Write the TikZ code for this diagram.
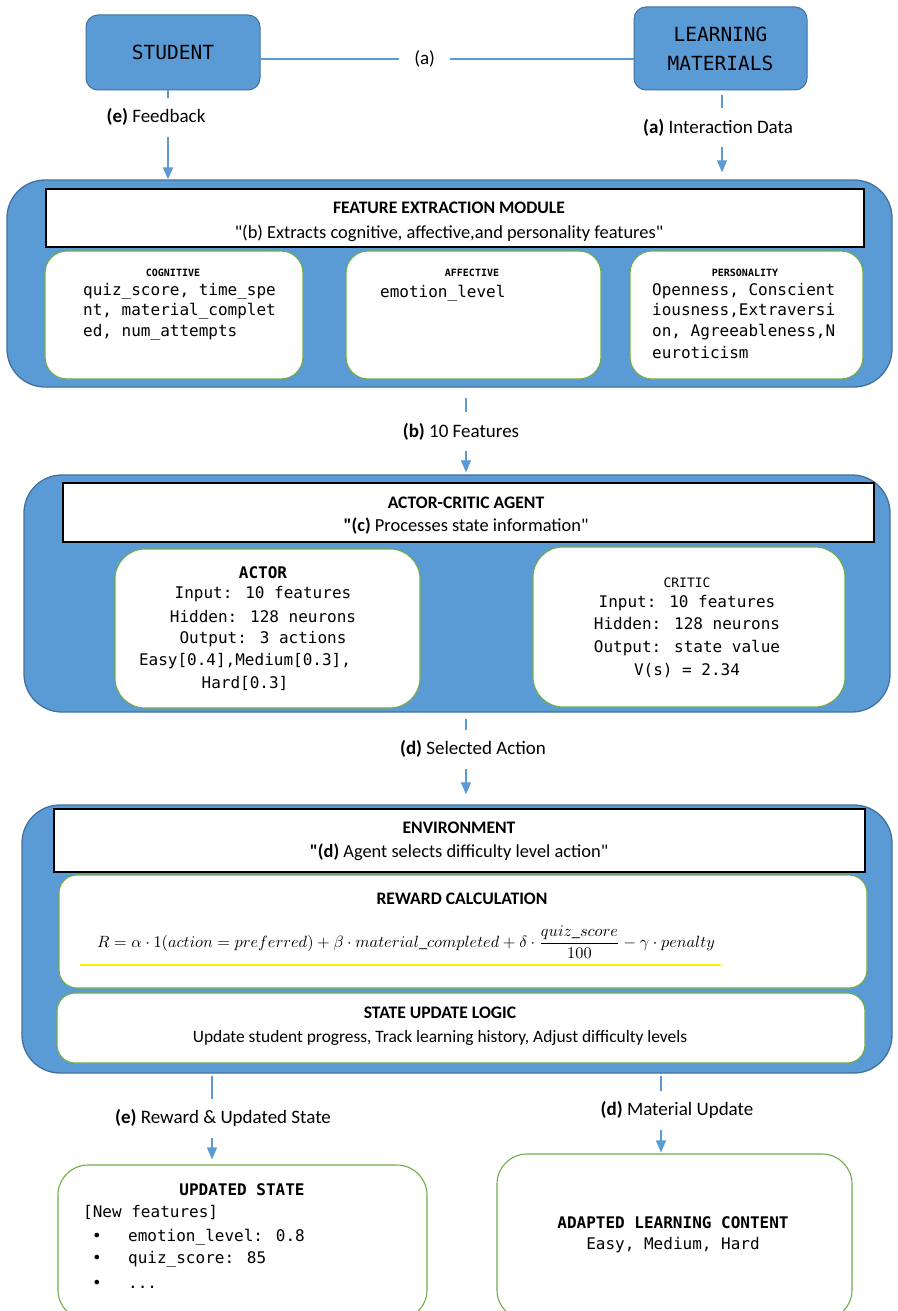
\documentclass[tikz,border=0pt]{standalone}
\usepackage{amsmath}
\usepackage[no-math]{fontspec}
\setmainfont{Carlito}
\newfontfamily\codefont{DejaVu Sans Mono}
\usetikzlibrary{arrows.meta}
\definecolor{aBlue}{RGB}{91,155,213}
\definecolor{aEdge}{RGB}{65,113,156}
\definecolor{aGreen}{RGB}{112,173,71}
\definecolor{aYellow}{RGB}{255,240,0}

\begin{document}
\begin{tikzpicture}[x=1pt, y=-1pt,
  module/.style={draw=aEdge, line width=1.3pt, fill=aBlue, rounded corners=38pt, inner sep=0pt},
  endbox/.style={draw=aEdge, line width=1pt, fill=aBlue, rounded corners=12pt, inner sep=0pt,
    align=center, font=\codefont\fontsize{19.5}{24}\selectfont},
  titlebox/.style={draw=black, line width=1.2pt, fill=white, inner sep=0pt},
  card/.style={draw=aGreen, line width=1.1pt, fill=white, rounded corners=22pt, inner sep=0pt},
  head/.style={anchor=base, inner sep=0pt, font=\bfseries\fontsize{17.6}{21}\selectfont},
  sub/.style={anchor=base, inner sep=0pt, font=\fontsize{18.4}{22}\selectfont},
  tag/.style={anchor=base, inner sep=0pt, font=\codefont\bfseries\fontsize{10}{12}\selectfont},
  code/.style={anchor=base west, inner sep=0pt, font=\codefont\fontsize{16}{20}\selectfont},
  ccode/.style={code, anchor=base},
  bcode/.style={ccode, font=\codefont\bfseries\fontsize{16}{20}\selectfont},
  conn/.style={draw=aBlue, line width=1.1pt},
  arr/.style={conn, -{Triangle[width=10pt,length=12pt]}},
  lbl/.style={fill=white, inner xsep=3pt, inner ysep=11pt, font=\fontsize{19}{22}\selectfont}]
  \useasboundingbox (0,0) rectangle (897,1311);
  \fill[white] (0,0) rectangle (897,1311);

  \node[endbox, minimum width=174pt, minimum height=75pt] (stu) at (173,52.5) {STUDENT};
  \node[endbox, minimum width=173pt, minimum height=83pt] (lm) at (720.5,48.5) {LEARNING\\[5pt]MATERIALS};

  \node[module, minimum width=885pt, minimum height=207pt] (fem) at (449.5,283.5) {};
  \node[titlebox, minimum width=818pt, minimum height=58pt] (femt) at (455,218) {};
  \node[head] (femh) at (449,213) {FEATURE EXTRACTION MODULE};
  \node[sub] (fems) at (449,238) {\textquotedbl(b) Extracts cognitive, affective,and personality features\textquotedbl};
  \node[card, minimum width=258pt, minimum height=128pt] (cog) at (174,315) {};
  \node[card, minimum width=255pt, minimum height=128pt] (aff) at (473.5,315) {};
  \node[card, minimum width=233pt, minimum height=128pt] (per) at (746.5,315) {};
  \node[tag] (cogh) at (173,276) {COGNITIVE};
  \node[tag] (affh) at (472,276) {AFFECTIVE};
  \node[tag] (perh) at (745,276) {PERSONALITY};
  \foreach \yy/\txt [count=\i] in {295/{quiz\_score, time\_spe}, 315.5/{nt, material\_complet}, 336/{ed, num\_attempts}}
    \node[code] (cog\i) at (83,\yy) {\txt};
  \node[code] (aff1) at (380,297) {emotion\_level};
  \foreach \yy/\txt [count=\i] in {295/{Openness, Conscient}, 315.5/{iousness,Extraversi}, 336/{on, Agreeableness,N}, 358/{euroticism}}
    \node[code] (per\i) at (652,\yy) {\txt};

  \node[module, minimum width=866pt, minimum height=237pt] (ac) at (457,593.5) {};
  \node[titlebox, minimum width=811pt, minimum height=59pt] (act) at (468.5,512.5) {};
  \node[head] (ach) at (466,508) {ACTOR-CRITIC AGENT};
  \node[sub] (acs) at (466,531) {\textbf{\textquotedbl(c)} Processes state information\textquotedbl};
  \node[card, rounded corners=30pt, minimum width=305pt, minimum height=159pt] (actor) at (267.5,628.5) {};
  \node[card, rounded corners=30pt, minimum width=312pt, minimum height=160pt] (critic) at (689,627) {};
  \node[bcode] (actor0) at (263,578) {ACTOR};
  \foreach \xx/\yy/\txt [count=\i] in {263/598/{Input: 10 features}, 263/622/{Hidden: 128 neurons},
    263/643/{Output: 3 actions}, 245/665/{Easy[0.4],Medium[0.3],}, 245/688/{Hard[0.3]}}
    \node[ccode] (actor\i) at (\xx,\yy) {\txt};
  \node[ccode, font=\codefont\fontsize{13}{16}\selectfont] (critic0) at (687,587) {CRITIC};
  \foreach \yy/\txt [count=\i] in {607/{Input: 10 features}, 629/{Hidden: 128 neurons},
    652/{Output: state value}, 675/{V(s) = 2.34}}
    \node[ccode] (critic\i) at (687,\yy) {\txt};

  \node[module, minimum width=870pt, minimum height=268pt] (env) at (457,939) {};
  \node[titlebox, minimum width=811pt, minimum height=63pt] (envt) at (459.5,840.5) {};
  \node[head] (envh) at (459,833) {ENVIRONMENT};
  \node[sub] (envs) at (459,857) {\textbf{\textquotedbl(d)} Agent selects difficulty level action\textquotedbl};
  \node[card, rounded corners=18pt, minimum width=808pt, minimum height=113pt] (rew) at (463,931.5) {};
  \node[head] (rewh) at (462,904) {REWARD CALCULATION};
  \node[inner sep=0pt] (rewf) at (406,942) {\scalebox{1.63}{$R = \alpha\cdot 1(action = preferred) + \beta\cdot material\_completed + \delta\cdot\dfrac{quiz\_score}{100} - \gamma\cdot penalty$}};
  \draw[aYellow, line width=1.6pt] (80,965) -- (721,965);
  \node[card, rounded corners=18pt, minimum width=808pt, minimum height=70pt] (sul) at (461,1028) {};
  \node[head] (sulh) at (440,1018) {STATE UPDATE LOGIC};
  \node[sub, font=\fontsize{17.4}{20}\selectfont] (suls) at (440,1042) {Update student progress, Track learning history, Adjust difficulty levels};

  \node[card, rounded corners=30pt, minimum width=369pt, minimum height=155pt] (upd) at (242.5,1242.5) {};
  \node[bcode] (upd0) at (242,1195) {UPDATED STATE};
  \node[code] (upd1) at (83,1217) {[New features]};
  \foreach \yy/\txt [count=\i] in {1241/{emotion\_level: 0.8}, 1263/{quiz\_score: 85}, 1288/{...}} {
    \node[code] (bul\i) at (92,\yy) {•};
    \node[code] (item\i) at (128,\yy) {\txt};
  }
  \node[card, rounded corners=30pt, minimum width=355pt, minimum height=166pt] (ada) at (674.5,1237) {};
  \node[bcode] (ada0) at (673,1228) {ADAPTED LEARNING CONTENT};
  \node[ccode] (ada1) at (673,1249) {Easy, Medium, Hard};

  \draw[conn] ([yshift=-6.5pt]stu.east) -- node[lbl, pos=0.44, inner xsep=15pt] {(a)} ([yshift=-6.5pt]stu.east -| lm.west);
  \draw[arr] ([xshift=-5pt]stu.south) -- node[lbl, pos=0.3, xshift=-12pt] {\textbf{(e)} Feedback} ([xshift=-5pt]stu.south |- fem.north);
  \draw[arr, shorten <=5pt, shorten >=7pt] ([xshift=1.5pt]lm.south) -- node[lbl, pos=0.42, xshift=-4pt] {\textbf{(a)} Interaction Data} ([xshift=1.5pt]lm.south |- fem.north);
  \draw[arr, shorten <=10pt, shorten >=2pt] ([xshift=16.5pt]fem.south) -- node[lbl, pos=0.51, xshift=-5pt] {\textbf{(b)} 10 Features} ([xshift=16.5pt]fem.south |- ac.north);
  \draw[arr, shorten <=6pt, shorten >=10pt] ([xshift=9pt]ac.south) -- node[lbl, pos=0.4, xshift=7pt] {\textbf{(d)} Selected Action} ([xshift=9pt]ac.south |- env.north);
  \draw[arr, shorten <=2pt, shorten >=5pt] ([xshift=-30.5pt]upd.north |- env.south) -- node[lbl, pos=0.49, xshift=11pt] {\textbf{(e)} Reward \& Updated State} ([xshift=-30.5pt]upd.north);
  \draw[arr, shorten <=2pt, shorten >=1pt] ([xshift=-13.5pt]ada.north |- env.south) -- node[lbl, pos=0.46, xshift=16pt] {\textbf{(d)} Material Update} ([xshift=-13.5pt]ada.north);
\end{tikzpicture}
\end{document}
